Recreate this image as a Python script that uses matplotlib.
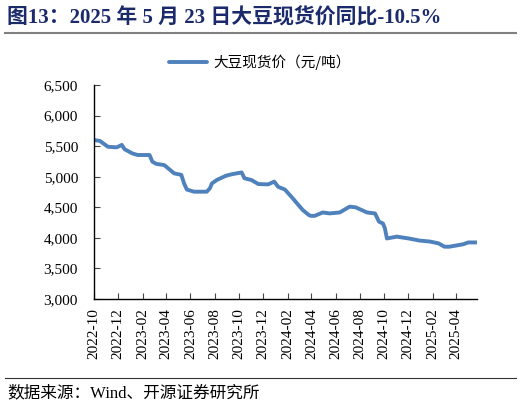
import matplotlib
matplotlib.use("Agg")
import matplotlib.pyplot as plt
from matplotlib.lines import Line2D
import pandas as pd

dates = ["2022-10-01", "2022-10-16", "2022-11-05", "2022-11-27", "2022-12-10", "2022-12-17",
         "2023-01-06", "2023-01-19", "2023-02-18", "2023-02-25", "2023-03-07", "2023-03-27",
         "2023-04-09", "2023-04-21", "2023-05-09", "2023-05-16", "2023-05-23", "2023-06-10",
         "2023-07-12", "2023-07-20", "2023-07-25", "2023-08-06", "2023-08-29", "2023-09-13",
         "2023-10-08", "2023-10-15", "2023-11-02", "2023-11-19", "2023-12-14", "2023-12-29",
         "2024-01-08", "2024-01-25", "2024-02-14", "2024-02-27", "2024-03-10", "2024-03-25",
         "2024-03-30", "2024-04-09", "2024-04-29", "2024-05-17", "2024-06-11", "2024-07-06",
         "2024-07-21", "2024-08-19", "2024-09-08", "2024-09-18", "2024-09-28", "2024-10-03",
         "2024-10-08", "2024-11-02", "2024-12-02", "2024-12-30", "2025-01-24", "2025-02-15",
         "2025-03-02", "2025-03-14", "2025-04-18", "2025-05-01", "2025-05-23"]
prices = [5600, 5585, 5490, 5480, 5520, 5450,
          5380, 5355, 5355, 5245, 5210, 5190,
          5120, 5055, 5030, 4890, 4790, 4755,
          4755, 4810, 4890, 4945, 5015, 5040,
          5070, 4975, 4945, 4880, 4875, 4920,
          4835, 4790, 4645, 4545, 4455, 4375,
          4360, 4360, 4415, 4400, 4415, 4510,
          4500, 4415, 4400, 4265, 4235, 4155,
          3990, 4020, 3990, 3955, 3940, 3910,
          3855, 3855, 3895, 3925, 3925]
tick_dates = ["2022-10", "2022-12", "2023-02", "2023-04", "2023-06", "2023-08", "2023-10",
              "2023-12", "2024-02", "2024-04", "2024-06", "2024-08", "2024-10", "2024-12",
              "2025-02", "2025-04"]
y_ticks = [3000, 3500, 4000, 4500, 5000, 5500, 6000, 6500]

title = "图13：2025 年 5 月 23 日大豆现货价同比-10.5%"
series_name = "大豆现货价（元/吨）"
source = "数据来源：Wind、开源证券研究所"

serif_cjk = ["Liberation Serif", "Noto Sans CJK SC"]
plt.rcParams["font.family"] = serif_cjk

W, H = 522, 408
fig = plt.figure(figsize=(W / 100, H / 100), dpi=100)
ax = fig.add_axes([94 / W, 1 - 299 / H, (477 - 94) / W, (299 - 85) / H])

x = pd.to_datetime(dates)
line, = ax.plot(x, prices, color="#4F81BD", lw=2.8, solid_joinstyle="round", solid_capstyle="round")

ax.set_xlim(pd.Timestamp("2022-10-01"), pd.Timestamp("2025-05-23"))
ax.set_ylim(3000, 6500)
ax.set_yticks(y_ticks)
ax.set_yticklabels([f"{v:,}" for v in y_ticks], fontsize=11)
ticks = pd.to_datetime([t + "-01" for t in tick_dates])
ax.set_xticks(ticks)
ax.set_xticklabels(tick_dates, rotation=90, fontsize=11)

for s in ["top", "right"]:
    ax.spines[s].set_visible(False)
for s in ["left", "bottom"]:
    ax.spines[s].set_color("black")
    ax.spines[s].set_linewidth(1.0)
ax.tick_params(axis="both", direction="in", length=4, width=0.8, color="#444444")
ax.tick_params(axis="y", pad=11.5)
ax.tick_params(axis="x", pad=6.5)

fig.text(7 / W, 1 - 18 / H, title, fontsize=15, fontweight="bold", color="#1B2A6B",
         va="center", ha="left", family=serif_cjk)
fig.add_artist(Line2D([5 / W, 516 / W], [1 - 33 / H, 1 - 33 / H], color="#808080", lw=1.5))
fig.add_artist(Line2D([5 / W, 516 / W], [1 - 378 / H, 1 - 378 / H], color="#333333", lw=0.8))
fig.text(7 / W, 1 - 393 / H, source, fontsize=12, color="black", va="center", ha="left",
         family=serif_cjk)

fig.legend([line], [series_name], loc="center", bbox_to_anchor=(260 / W, 1 - 62 / H),
           frameon=False, handlelength=2.6, handletextpad=0.4,
           prop={"family": ["Noto Sans CJK SC"], "size": 10.5})

fig.savefig("out.png", dpi=100)
